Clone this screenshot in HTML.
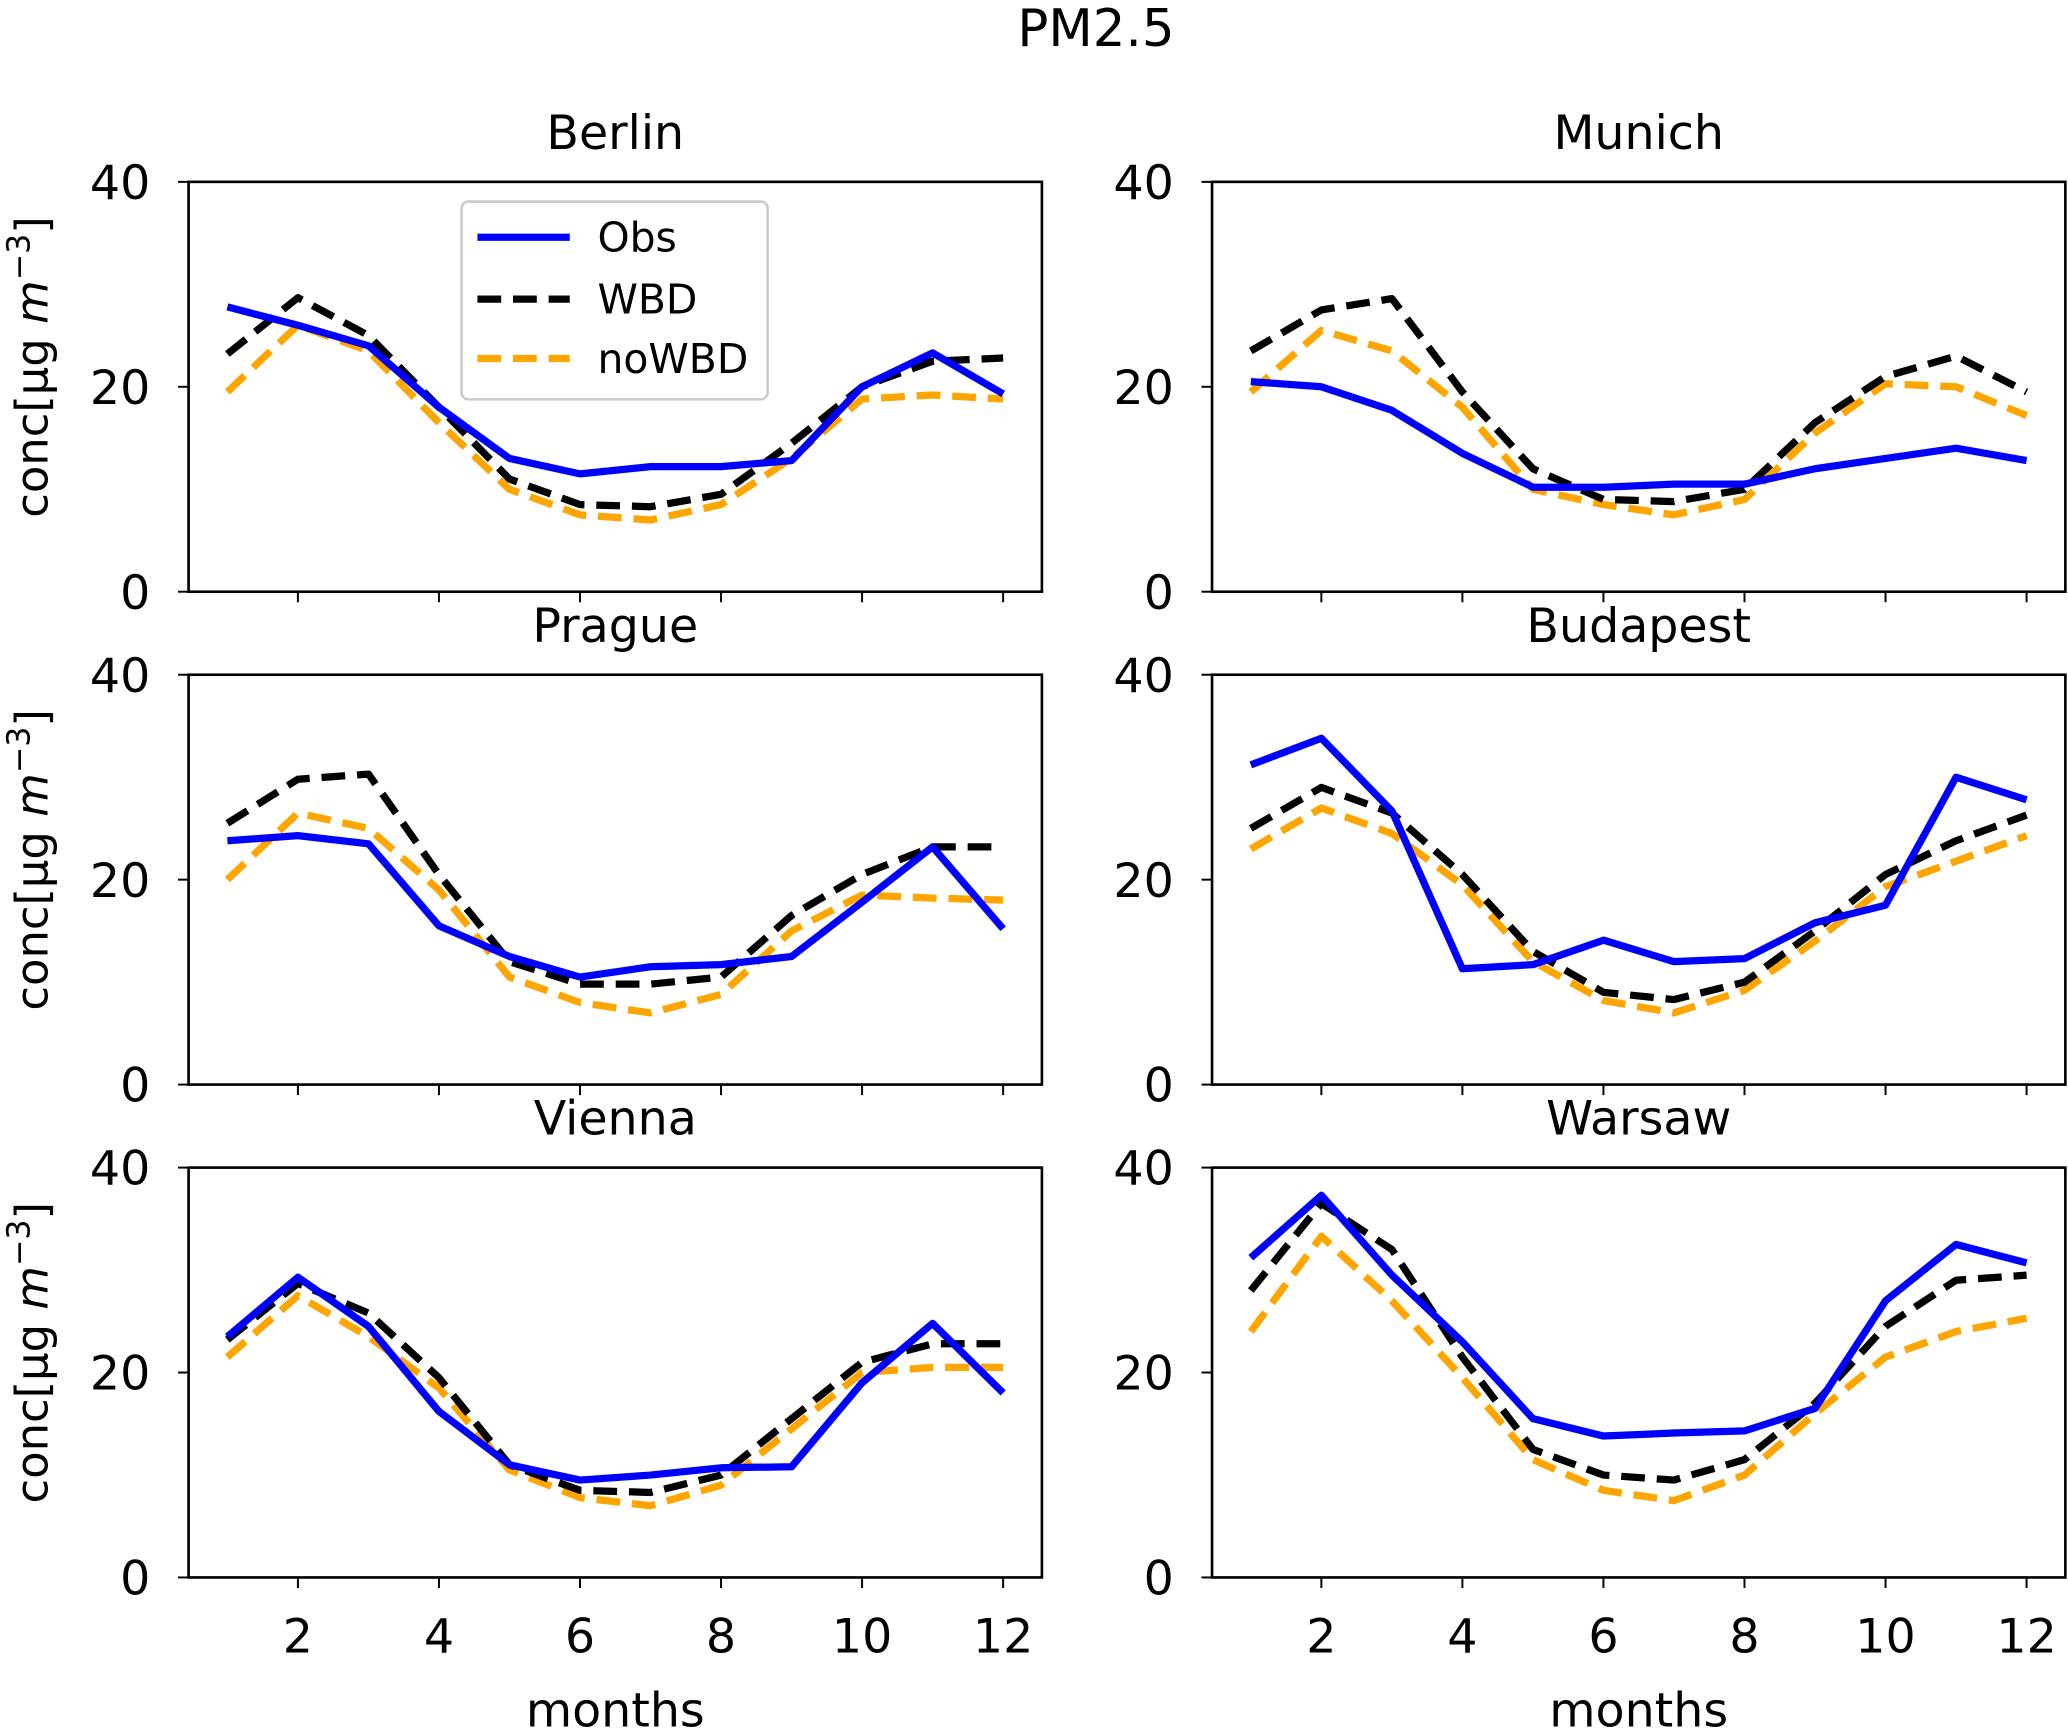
<!DOCTYPE html>
<html><head><meta charset="utf-8"><style>
html,body{margin:0;padding:0;background:#fff;}
svg{display:block;font-family:"DejaVu Sans","Liberation Sans",sans-serif;}
</style></head><body>
<svg id="chart" width="2068" height="1729" viewBox="0 0 1568 1312" preserveAspectRatio="none" xmlns="http://www.w3.org/2000/svg">
<text x="831" y="35" font-size="39" text-anchor="middle">PM2.5</text>
</svg>
<script>
const months=[1,2,3,4,5,6,7,8,9,10,11,12];
const cities=["Berlin","Munich","Prague","Budapest","Vienna","Warsaw"];
const yTicks=[0,20,40];
const xTicks=[2,4,6,8,10,12];
const obsData=[
[27.8,26,24,18,13,11.5,12.2,12.2,12.8,20,23.3,19.3],
[20.5,20,17.7,13.5,10.2,10.2,10.5,10.5,12,13,14,12.8],
[23.8,24.3,23.5,15.5,12.5,10.5,11.5,11.7,12.5,17.8,23.2,15.2],
[31.2,33.8,26.7,11.3,11.7,14.1,12,12.3,15.8,17.5,30,27.8],
[23.5,29.3,24.5,16.2,11,9.5,10,10.7,10.8,19,24.8,18],
[31.2,37.3,29.5,23,15.5,13.8,14.1,14.3,16.5,27,32.5,30.7]];
const wbdData=[
[23.2,28.7,25,18,11,8.5,8.3,9.5,14.5,20,22.5,22.8],
[23.5,27.5,28.6,19.5,12,9,8.8,10,16.5,21,23,19.5],
[25.5,29.8,30.3,20.5,12,9.8,9.8,10.5,16.5,20.5,23.2,23.2],
[25,29,26.5,20.5,13,9,8.3,10,15,20.5,23.8,26.3],
[23.2,28.7,25.8,19.5,11,8.5,8.3,10,15.5,21,22.8,22.8],
[28,36.5,32,21.5,12.5,10,9.5,11.5,17,24.5,29,29.5]];
const nowbdData=[
[19.5,26,23.5,16.5,10,7.5,7,8.5,13,18.8,19.2,18.8],
[19.5,25.5,23.5,18,10,8.5,7.5,9,15.5,20.3,20,17.2],
[20,26.5,25,19,10.5,8,7,8.8,15,18.5,18.2,18],
[23,27,24.5,19.5,12,8.2,7,9.2,14,19.3,21.8,24.3],
[21.5,27.5,23.5,18.5,10.5,7.8,7,9,14.5,20,20.5,20.5],
[24,33.3,27,19.5,11.5,8.5,7.5,10,16,21.5,24,25.3]];
const NS="http://www.w3.org/2000/svg";
const svg=document.getElementById("chart");
function mk(tag,attrs,parent){const e=document.createElementNS(NS,tag);for(const k in attrs)e.setAttribute(k,attrs[k]);(parent||svg).appendChild(e);return e;}
const colX=[143,919],rowY=[138,512,886],W=647,H=311;
cities.forEach((city,i)=>{
  const c=i%2,r=Math.floor(i/2);
  const x0=colX[c],y0=rowY[r];
  const sx=m=>x0+(m-0.45)/12.1*W;
  const sy=v=>y0+H-v/40*H;
  const g=mk("g",{});
  
  
  const t=mk("text",{x:x0+W/2,y:y0-25,"font-size":36,"text-anchor":"middle"},g);t.textContent=city;
  
  yTicks.forEach(v=>{
    mk("line",{x1:x0-8,x2:x0,y1:sy(v),y2:sy(v),stroke:"#000","stroke-width":1.5},g);
    const l=mk("text",{x:x0-29,y:sy(v)+13,"font-size":36,"text-anchor":"end"},g);l.textContent=v;
    
  });
  xTicks.forEach(v=>{
    mk("line",{x1:sx(v),x2:sx(v),y1:y0+H,y2:y0+H+8,stroke:"#000","stroke-width":1.5},g);
    if(r===2){const l=mk("text",{x:sx(v),y:y0+H+57,"font-size":36,"text-anchor":"middle"},g);l.textContent=v;
      }
  });
  if(c===0){const yl=mk("text",{x:0,y:0,"font-size":34,"text-anchor":"middle",transform:`translate(36,${y0+H/2-15}) rotate(-90)`},g);
    yl.innerHTML='conc[μg <tspan font-style="italic">m</tspan><tspan baseline-shift="super" font-size="24">−3</tspan>]';
    }
  if(r===2){const xl=mk("text",{x:x0+W/2,y:1310,"font-size":36,"text-anchor":"middle"},g);xl.textContent="months";
    }
  [[nowbdData[i],"#ffa500","18,9","nowbd"],[wbdData[i],"#000","18,9","wbd"],[obsData[i],"#0000ff",null,"obs"]].forEach(s=>{
    const pts=months.map((m,k)=>sx(m).toFixed(1)+","+sy(s[0][k]).toFixed(1)).join(" ");
    const a={points:pts,fill:"none",stroke:s[1],"stroke-width":5.5,"stroke-linejoin":"round"};
    if(s[2])a["stroke-dasharray"]=s[2];
    const p=mk("polyline",a,g);
    
  });
  const fr=mk("rect",{x:x0,y:y0,width:W,height:H,fill:"none",stroke:"#000","stroke-width":2},g);
  
});
const lg=mk("g",{});


mk("rect",{x:350,y:153,width:232,height:150,rx:5,fill:"#fff",stroke:"#ccc","stroke-width":2},lg);
[["Obs","#0000ff",null,180],["WBD","#000","18,9",227],["noWBD","#ffa500","18,9",272]].forEach(e=>{
  const a={x1:362,x2:432,y1:e[3],y2:e[3],stroke:e[1],"stroke-width":5.5};if(e[2])a["stroke-dasharray"]=e[2];
  const ln=mk("line",a,lg);
  
  const t=mk("text",{x:453,y:e[3]+11,"font-size":31},lg);t.textContent=e[0];
  
});
</script>
</body></html>
